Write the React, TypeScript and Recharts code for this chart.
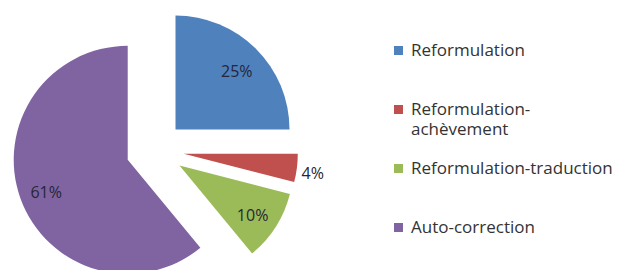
import { PieChart, Pie, Cell, Sector, Legend } from 'recharts'

const categories = ['Reformulation', 'Reformulation-achèvement', 'Reformulation-traduction', 'Auto-correction']
const shares = [25, 4, 10, 61]
const colors = ['#4f81bd', '#c0504d', '#9bbb59', '#8064a2']

const data = categories.map((name, i) => ({ name, value: shares[i] }))

const EXPLODE = 29
const RADIAN = Math.PI / 180

const shift = (midAngle: number, d: number) => ({
  dx: d * Math.cos(-midAngle * RADIAN),
  dy: d * Math.sin(-midAngle * RADIAN),
})

const ExplodedSlice = (props: any) => {
  const { dx, dy } = shift(props.midAngle, EXPLODE)
  return <Sector {...props} cx={props.cx + dx} cy={props.cy + dy} />
}

const renderLabel = (props: any) => {
  const { cx, cy, midAngle, outerRadius, value } = props
  const { dx, dy } = shift(midAngle, EXPLODE)
  const r = value < 5 ? outerRadius + 16 : outerRadius * 0.76
  const x = cx + dx + r * Math.cos(-midAngle * RADIAN)
  const y = cy + dy + r * Math.sin(-midAngle * RADIAN) + 3
  return (
    <text x={x} y={y} fill="#262636" fontSize={16} textAnchor="middle" dominantBaseline="central"
      fontFamily="'Open Sans', sans-serif">
      {value}%
    </text>
  )
}

const renderLegend = () => (
  <ul style={{ listStyle: 'none', margin: 0, padding: 0, fontFamily: "'Open Sans', sans-serif", fontSize: 17, color: '#333' }}>
    {data.map((d, i) => (
      <li key={d.name} style={{ height: 59, display: 'flex', alignItems: 'flex-start' }}>
        <span style={{ width: 9, height: 9, background: colors[i], marginTop: 6, marginRight: 8, flexShrink: 0 }} />
        <span style={{ width: 207, lineHeight: '20px' }}>{d.name}</span>
      </li>
    ))}
  </ul>
)

export default function App() {
  return (
    <div style={{ position: 'absolute', left: 0, top: 0, background: '#fff' }}>
      <PieChart width={617} height={270} margin={{ top: 0, right: 0, bottom: 0, left: 0 }}>
        <Pie
          data={data}
          dataKey="value"
          nameKey="name"
          cx={155}
          cy={150}
          outerRadius={114}
          startAngle={90}
          endAngle={-270}
          stroke="none"
          shape={ExplodedSlice}
          label={renderLabel}
          labelLine={false}
          isAnimationActive={false}
        >
          {data.map((d, i) => (
            <Cell key={d.name} fill={colors[i]} />
          ))}
        </Pie>
        <Legend
          layout="vertical"
          align="right"
          verticalAlign="top"
          content={renderLegend}
          wrapperStyle={{ left: 394, top: 40, width: 223 }}
        />
      </PieChart>
    </div>
  )
}
